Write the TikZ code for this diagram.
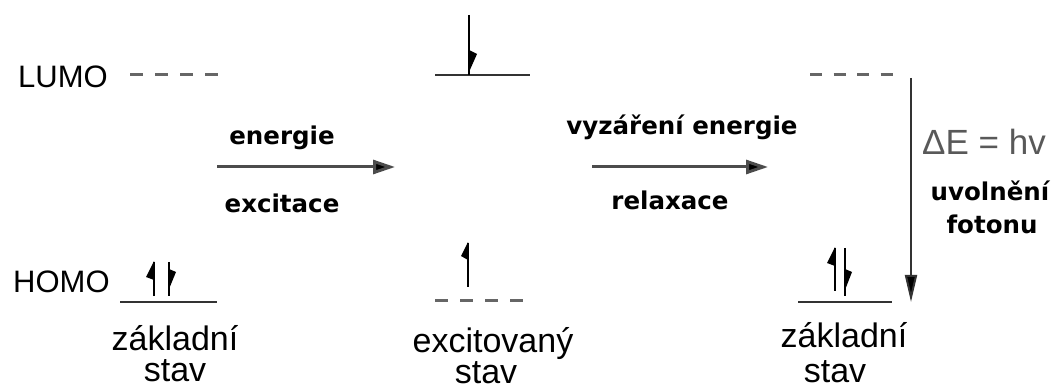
\documentclass[tikz,border=0pt]{standalone}
\usepackage{fontspec}
\setmainfont{Liberation Sans}
\newfontfamily\labfont{DejaVu Sans}
\usetikzlibrary{arrows.meta}
\begin{document}
\begin{tikzpicture}[x=1pt,y=-1pt,
  reg/.style={inner sep=0pt, font=\fontsize{34}{40}\selectfont, anchor=base},
  mo/.style={inner sep=0pt, font=\fontsize{31}{36}\selectfont, anchor=base west},
  lab/.style={inner sep=0pt, font=\labfont\bfseries\fontsize{24.5}{29}\selectfont, anchor=base},
  level/.style={line width=2.5pt, draw=black!80},
  dlevel/.style={line width=3pt, draw=black!60, dash pattern=on 13pt off 12pt},
  spin/.style={line width=2.5pt, draw=black},
  trans/.style={line width=3pt, draw=black!70, -{Triangle[length=22pt,width=14pt,fill=black]}},
  emit/.style={line width=2pt, draw=black!80, -{Triangle[length=27pt,width=12pt,fill=black]}},
]
\useasboundingbox (0,0) rectangle (1058,390);

% MO labels
\node[mo] (lumo) at (18,88) {LUMO};
\node[mo] (homo) at (13,293) {HOMO};

% energy levels
\draw[dlevel] (130,75) -- (218,75);
\draw[level] (120,302) -- (217,302);
\draw[level] (435,75) -- (530,75);
\draw[dlevel] (435,300) -- (523,300);
\draw[dlevel, dash pattern=on 12pt off 11.5pt] (810,75) -- (895,75);
\draw[level] (798,302) -- (892,302);

% spins, ground state (left)
\draw[spin] (154,296) -- (154,262);
\fill (154,261) -- (146,277) -- (154,280) -- cycle;
\draw[spin] (169,262) -- (169,296);
\fill (169,289) -- (176,272) -- (169,269) -- cycle;

% spins, excited state (middle)
\draw[spin] (469,15) -- (469,75);
\fill (469,72) -- (477,54) -- (469,50) -- cycle;
\draw[spin] (468,287) -- (468,243);
\fill (468,242) -- (461,256) -- (468,260) -- cycle;

% spins, ground state (right)
\draw[spin] (835,291) -- (835,248);
\fill (835,247) -- (827,263) -- (835,266) -- cycle;
\draw[spin] (845,248) -- (845,296);
\fill (845,290) -- (852,272) -- (845,269) -- cycle;

% transitions
\coordinate (a1s) at (217,167);
\coordinate (a1e) at (395,167);
\draw[trans] (a1s) -- (a1e);
\coordinate (a2s) at (592,167);
\coordinate (a2e) at (768,167);
\draw[trans] (a2s) -- (a2e);
\coordinate (eTop) at (911,78);
\coordinate (eBot) at (911,302);
\draw[emit] (eTop) -- (eBot);

% arrow labels
\node[lab] (en1) at (282,145) {energie};
\node[lab] (exc) at (282,213) {excitace};
\node[lab] (vyz) at (682,135) {vyzáření energie};
\node[lab] (rel) at (670,210) {relaxace};
\node[inner sep=0pt, anchor=base west, font=\fontsize{35}{40}\selectfont, text=black!65] (de) at (922,155) {ΔE = hv};
\node[lab] (uvo) at (990,201) {uvolnění};
\node[lab] (fot) at (992,234) {fotonu};

% state captions
\node[reg] (z1) at (175,350) {základní};
\node[reg] (s1) at (175,381) {stav};
\node[reg] (z2) at (493,352) {excitovaný};
\node[reg] (s2) at (486,383) {stav};
\node[reg] (z3) at (844,347) {základní};
\node[reg] (s3) at (835,382) {stav};
\end{tikzpicture}
\end{document}
